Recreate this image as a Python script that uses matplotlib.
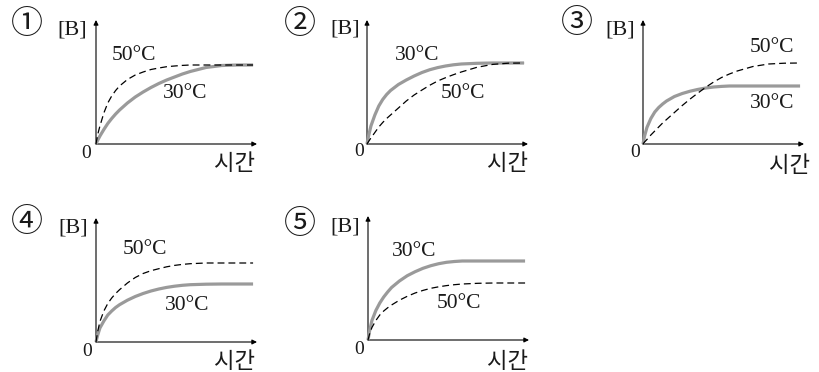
import matplotlib
matplotlib.use("Agg")
import matplotlib.pyplot as plt

W, H = 820, 372

# time grid (curve end = 10)
t = [0, 0.1, 0.25, 0.5, 0.75, 1, 1.25, 1.5, 2, 2.5, 3, 3.5, 4, 4.5, 5, 5.5, 6, 7, 8, 9, 10]

# [B] values for each option (30°C gray solid, 50°C black dashed)
p1_30 = [0, 3.5, 8, 14.5, 20.5, 25.5, 30, 34, 41, 47, 52, 56.5, 60.5, 64, 67, 70, 72.5, 76.5, 78.5, 79, 79]
p1_50 = [0, 9, 18, 31, 41, 48, 53.5, 58, 64.5, 69, 72, 74.5, 76, 77.3, 78, 78.6, 79, 79, 79, 79, 79]
p2_30 = [0, 8, 18, 29, 38, 44.5, 49.5, 53.5, 59.5, 64, 68, 71.5, 74.3, 76.4, 78, 79.2, 80, 80.7, 81, 81, 81]
p2_50 = [0, 2.5, 6, 11.5, 17, 21.5, 25.5, 29, 36, 43, 49, 54, 58.8, 63, 66.3, 69.3, 72, 76.7, 79.6, 80.8, 81]
p3_30 = [0, 8, 16.5, 25.5, 32, 36.5, 40, 43, 47.5, 50.5, 52.8, 54.6, 56, 57, 57.6, 58, 58, 58, 58, 58, 58]
p3_50 = [0, 2, 4.5, 9, 13, 17, 21, 24.5, 31.5, 38.5, 45, 51, 56.8, 62, 66.5, 70, 73, 77.5, 80, 80.8, 81]
p4_30 = [0, 6.5, 14, 21, 27, 31, 34.5, 37.3, 41.8, 45.5, 48.5, 51, 53, 54.6, 55.8, 56.7, 57.3, 57.8, 58, 58, 58]
p4_50 = [0, 10, 20.5, 31, 38.5, 44, 48.5, 52.3, 59, 64.5, 68.5, 71.3, 73.3, 75.2, 76.6, 77.6, 78.3, 79, 79, 79, 79]
p5_30 = [0, 9, 19.5, 29.5, 37, 43, 48, 52.5, 59, 64.3, 68.3, 71.7, 74.3, 76.3, 77.7, 78.5, 79, 79, 79, 79, 79]
p5_50 = [0, 6, 12.5, 19.5, 25, 29, 32.2, 35, 39.8, 43.7, 47, 49.6, 51.7, 53.2, 54.4, 55.3, 56, 56.7, 57, 57, 57]

labels = ["①", "②", "③", "④", "⑤"]
ylabel = "[B]"
xlabel = "시간"
lab30 = "30°C"
lab50 = "50°C"

panels = [
    dict(o=(96, 144), s30=p1_30, s50=p1_50,
         num=(27, 24), B=(72, 30), l30=(185, 94), l50=(134, 56), zero=(86, 153), xl=(235, 163)),
    dict(o=(367, 144), s30=p2_30, s50=p2_50,
         num=(300, 24), B=(345, 29), l30=(417, 55), l50=(463, 94), zero=(359, 151), xl=(508, 163)),
    dict(o=(643, 144), s30=p3_30, s50=p3_50,
         num=(577, 23), B=(620, 30), l30=(772, 103), l50=(772, 48), zero=(635, 152), xl=(790, 165)),
    dict(o=(96, 342), s30=p4_30, s50=p4_50,
         num=(27, 222), B=(73, 228), l30=(187, 305), l50=(145, 249), zero=(87, 351), xl=(235, 362)),
    dict(o=(368, 340), s30=p5_30, s50=p5_50,
         num=(300, 224), B=(345, 227), l30=(414, 251), l50=(459, 303), zero=(359, 350), xl=(508, 361)),
]

fig = plt.figure(figsize=(W / 100, H / 100), dpi=100)
fig.patch.set_facecolor("white")

XMAX = 10.25   # 161 px
YMAX = 124     # 124 px

serif = ["Liberation Serif", "Noto Sans CJK KR", "DejaVu Sans"]
kr = ["Noto Sans CJK KR", "DejaVu Sans"]
TXT = "#1a1a1a"


def fx(x):
    return x / W


def fy(y):
    return 1 - y / H


for i, p in enumerate(panels):
    ox, oy = p["o"]
    ax = fig.add_axes([fx(ox), fy(oy), 161 / W, 124 / H])
    ax.set_xlim(0, XMAX)
    ax.set_ylim(0, YMAX)
    ax.axis("off")
    ap = dict(arrowstyle="-|>", lw=0.8, color="black", mutation_scale=7,
              shrinkA=0, shrinkB=0)
    ax.annotate("", xy=(XMAX, 0), xytext=(0, 0), arrowprops=ap, annotation_clip=False)
    ax.annotate("", xy=(0, YMAX), xytext=(0, 0), arrowprops=ap, annotation_clip=False)
    ax.plot(t, p["s30"], color="#9a9a9a", lw=2.3, solid_capstyle="butt",
            solid_joinstyle="round", clip_on=False, zorder=3)
    ax.plot(t, p["s50"], color="black", lw=0.9, linestyle=(0, (5.5, 3.2)),
            clip_on=False, zorder=4)

    fig.text(fx(p["num"][0]), fy(p["num"][1]), labels[i], family=kr, fontsize=23,
             ha="center", va="center", color=TXT)
    fig.text(fx(p["B"][0]), fy(p["B"][1]), ylabel, family=serif, fontsize=16,
             ha="center", va="center", color=TXT)
    fig.text(fx(p["l30"][0]), fy(p["l30"][1]), lab30, family=serif, fontsize=15.5,
             ha="center", va="center", color=TXT)
    fig.text(fx(p["l50"][0]), fy(p["l50"][1]), lab50, family=serif, fontsize=15.5,
             ha="center", va="center", color=TXT)
    fig.text(fx(p["zero"][0]), fy(p["zero"][1]), "0", family=serif, fontsize=14,
             ha="center", va="center", color=TXT)
    fig.text(fx(p["xl"][0]), fy(p["xl"][1]), xlabel, family=kr, fontsize=16,
             ha="center", va="center", color=TXT)

fig.savefig("out.png", dpi=100, facecolor="white")
